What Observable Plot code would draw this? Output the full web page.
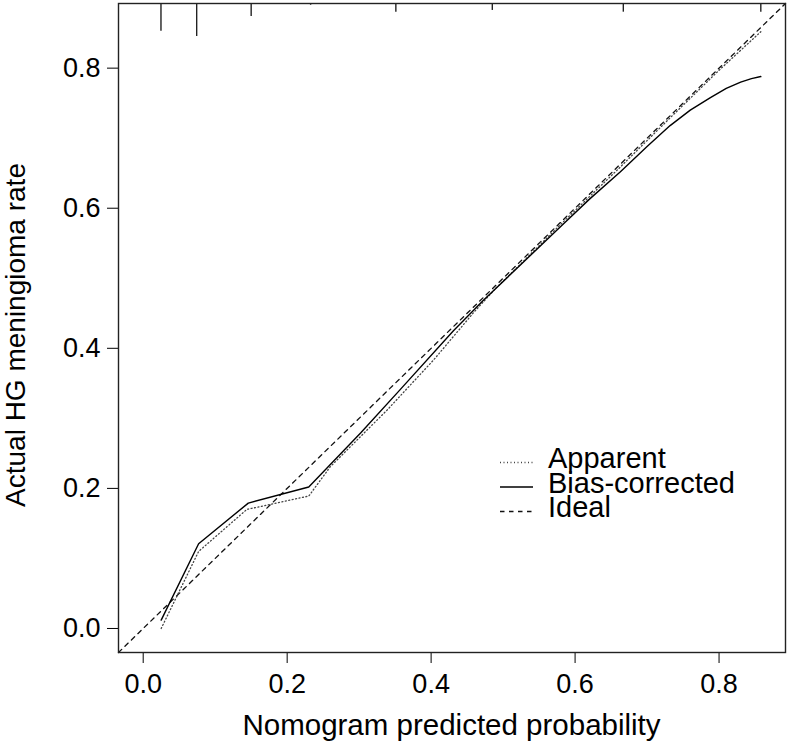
<!DOCTYPE html>
<html>
<head>
<meta charset="utf-8">
<script src="https://cdn.jsdelivr.net/npm/d3@7"></script>
<script src="https://cdn.jsdelivr.net/npm/@observablehq/plot@0.6"></script>
<style>
  html, body { margin: 0; padding: 0; background: #fff; }
  #chart { width: 791px; height: 744px; }
</style>
</head>
<body>
<div id="chart"></div>
<script>
// ---- data ----
const xTicks = [0, 0.2, 0.4, 0.6, 0.8];
const yTicks = [0, 0.2, 0.4, 0.6, 0.8];
const axisDomain = [-0.0343, 0.8923];

// Bias-corrected calibration curve (solid)
const biasX = [0.025, 0.077, 0.146, 0.230, 0.302, 0.357, 0.431, 0.473, 0.520, 0.580, 0.620, 0.663, 0.700, 0.732, 0.760, 0.788, 0.810, 0.830, 0.845, 0.858];
const biasY = [0.012, 0.121, 0.179, 0.202, 0.279, 0.341, 0.425, 0.469, 0.515, 0.574, 0.613, 0.652, 0.688, 0.718, 0.740, 0.758, 0.771, 0.780, 0.785, 0.788];

// Apparent calibration curve (dotted)
const apparentX = [0.025, 0.077, 0.144, 0.230, 0.260, 0.339, 0.404, 0.459, 0.490, 0.520, 0.580, 0.660, 0.730, 0.800, 0.858];
const apparentY = [0.000, 0.110, 0.170, 0.189, 0.231, 0.312, 0.384, 0.451, 0.486, 0.516, 0.577, 0.656, 0.727, 0.797, 0.852];

// Ideal line (dashed), corner to corner
const idealX = [-0.0343, 0.8923];
const idealY = [-0.0343, 0.8923];

// Spike histogram of predicted probabilities along the top
const rugX = [0.0247, 0.0743, 0.150, 0.2326, 0.351, 0.485, 0.667, 0.858];
const rugFreq = [32, 38, 15, 2, 10, 8, 10, 10];

const legendLabels = ["Apparent", "Bias-corrected", "Ideal"];

// ---- build tables ----
const bias = biasX.map((x, i) => ({x, y: biasY[i]}));
const apparent = apparentX.map((x, i) => ({x, y: apparentY[i]}));
const ideal = idealX.map((x, i) => ({x, y: idealY[i]}));
const rug = rugX.map((x, i) => ({x, f: rugFreq[i]}));
const rugUnit = 0.00124; // height of one count, in y units

const font = "'Liberation Sans', Arial, Helvetica, sans-serif";

const chart = Plot.plot({
  width: 791,
  height: 744,
  marginLeft: 118,
  marginRight: 6,
  marginTop: 3,
  marginBottom: 92,
  style: {fontFamily: font, fontSize: "27px", color: "#000", background: "#fff", overflow: "visible"},
  x: {domain: axisDomain, ticks: xTicks, tickFormat: d3.format(".1f"), tickSize: 11, tickPadding: 10, label: null, line: false},
  y: {domain: axisDomain, ticks: yTicks, tickFormat: d3.format(".1f"), tickSize: 11, tickPadding: 7, label: null, line: false},
  marks: [
    Plot.line(ideal, {x: "x", y: "y", stroke: "#111", strokeWidth: 1.3, strokeDasharray: "4.5,4.5"}),
    Plot.line(apparent, {x: "x", y: "y", stroke: "#444", strokeWidth: 1.3, strokeDasharray: "1,2.5"}),
    Plot.line(bias, {x: "x", y: "y", stroke: "#000", strokeWidth: 1.4}),
    Plot.ruleX(rug, {x: "x", y1: axisDomain[1], y2: d => axisDomain[1] - d.f * rugUnit, stroke: "#222", strokeWidth: 1.4}),
    Plot.frame({stroke: "#222", strokeWidth: 1.4})
  ]
});

document.getElementById("chart").appendChild(chart);

// ---- axis titles and legend ----
const svg = d3.select(chart);
const sx = chart.scale("x");
const midX = (sx.range[0] + sx.range[1]) / 2;

svg.append("text")
  .attr("x", midX).attr("y", 735)
  .attr("text-anchor", "middle")
  .attr("font-family", font).attr("font-size", 29.5).attr("fill", "#000")
  .text("Nomogram predicted probability");

svg.append("text")
  .attr("transform", `translate(25,${335}) rotate(-90)`)
  .attr("text-anchor", "middle")
  .attr("font-family", font).attr("font-size", 28).attr("fill", "#000")
  .text("Actual HG meningioma rate");

const legendStyles = [
  {dash: "1,2.5", stroke: "#444"},
  {dash: null, stroke: "#000"},
  {dash: "4.5,4.5", stroke: "#111"}
];
const lg = svg.append("g").attr("text-anchor", "start");
legendLabels.forEach((lab, i) => {
  const yy = 462.5 + i * 24.5;
  lg.append("line")
    .attr("x1", 500).attr("x2", 533).attr("y1", yy).attr("y2", yy)
    .attr("stroke", legendStyles[i].stroke).attr("stroke-width", 1.3)
    .attr("stroke-dasharray", legendStyles[i].dash);
  lg.append("text")
    .attr("x", 548).attr("y", yy + 5.5)
    .attr("text-anchor", "start")
    .attr("font-family", font).attr("font-size", 29).attr("fill", "#000")
    .text(lab);
});
</script>
</body>
</html>
